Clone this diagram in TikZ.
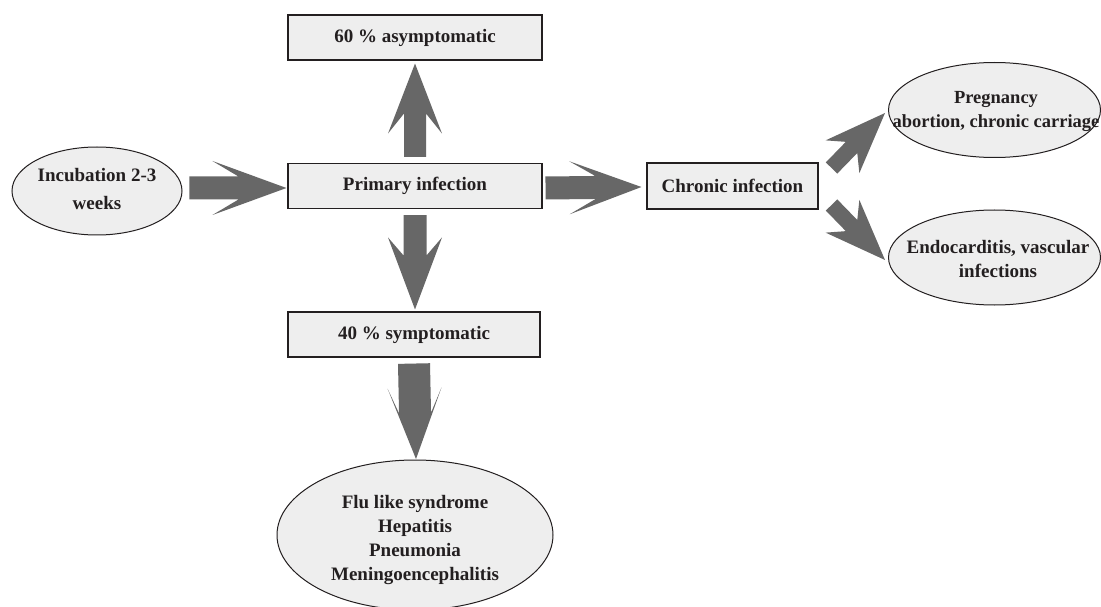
\documentclass[tikz,border=0pt]{standalone}
\usepackage{fontspec}
\setmainfont{Liberation Serif}
\usetikzlibrary{calc}
\definecolor{txt}{HTML}{231F20}
\definecolor{boxfill}{HTML}{EEEEEE}
\definecolor{arrowfill}{HTML}{676767}
% #1 start, #2 tip, #3 shaft half width, #4 head half width, #5 head length, #6 head length minus inset
\newcommand{\fatarrow}[6]{%
  \coordinate (faH) at ($(#2)!#5!(#1)$);
  \coordinate (faJ) at ($(#2)!#6!(#1)$);
  \fill[arrowfill] ($(#1)!#3!90:(#2)$) -- ($(faJ)!#3!90:(#2)$) -- ($(faH)!#4!90:(#2)$) -- (#2)
    -- ($(faH)!#4!-90:(#2)$) -- ($(faJ)!#3!-90:(#2)$) -- ($(#1)!#3!-90:(#2)$) -- cycle;}
\begin{document}
\begin{tikzpicture}[x=1bp,y=-1bp,
  every node/.style={text=txt, font=\bfseries\fontsize{19bp}{24bp}\selectfont, align=center},
  box/.style={draw=txt, line width=1.1bp, fill=boxfill, rectangle, inner sep=0pt},
  ell/.style={draw=txt, line width=1bp, fill=boxfill}]
\useasboundingbox (0,0) rectangle (1101,607);
\clip (0,0) rectangle (1101,607);
\fill[white] (0,0) rectangle (1101,607);

% ellipses
\draw[ell] (97,191) ellipse [x radius=85, y radius=44];
\node[font=\bfseries\fontsize{19bp}{28bp}\selectfont] (inc) at (97,189) {Incubation 2-3\\weeks};
\draw[ell] (994.5,110) ellipse [x radius=106, y radius=47.5];
\node[font=\bfseries\fontsize{18.5bp}{24bp}\selectfont] (preg) at (996,111) {Pregnancy\\abortion, chronic carriage};
\draw[ell] (994.5,257.5) ellipse [x radius=106, y radius=47.5];
\node (endo) at (998,259) {Endocarditis, vascular\\infections};
\draw[ell] (415,535) ellipse [x radius=138, y radius=75];
\node (flu) at (415,540) {Flu like syndrome\\Hepatitis\\Pneumonia\\Meningoencephalitis};

% boxes
\node[box, minimum width=254bp, minimum height=45bp] (prim) at (415,186) {Primary infection};
\node[box, minimum width=254bp, minimum height=45bp] (asym) at (415,37.5) {60 \% asymptomatic};
\node[box, minimum width=252bp, minimum height=45bp] (sym) at (414,334.5) {40 \% symptomatic};
\node[box, minimum width=171bp, minimum height=46bp] (chron) at (732.5,186) {Chronic infection};

% connector end points
\coordinate (a1s) at ($(prim.west)+(-98,2)$);
\coordinate (a1t) at ($(prim.west)+(-1,2)$);
\coordinate (a2s) at ($(prim.north)+(0,-6)$);
\coordinate (a2t) at ($(asym.south)+(0,3)$);
\coordinate (a3s) at ($(prim.south)+(0,6)$);
\coordinate (a3t) at ($(sym.north)+(1,-2)$);
\coordinate (a4s) at ($(sym.south)+(0,6)$);
\coordinate (a4t) at (416,459);
\coordinate (a5s) at ($(prim.east)+(3,2)$);
\coordinate (a5t) at ($(chron.west)+(-5,1)$);
\coordinate (a6s) at ($(chron.east)+(13,-18)$);
\coordinate (a6t) at (885,113);
\coordinate (a7s) at ($(chron.east)+(13,19)$);
\coordinate (a7t) at (885,260);

% fat arrows
\fatarrow{a1s}{a1t}{11.5bp}{27bp}{74bp}{48bp}
\fatarrow{a2s}{a2t}{11bp}{27bp}{70bp}{50bp}
\fatarrow{a3s}{a3t}{11.5bp}{27bp}{72bp}{54bp}
\fatarrow{a4s}{a4t}{16bp}{27bp}{71bp}{46bp}
\fatarrow{a5s}{a5t}{11.5bp}{26.5bp}{72bp}{46bp}
\fatarrow{a6s}{a6t}{8bp}{23.5bp}{61bp}{48bp}
\fatarrow{a7s}{a7t}{8bp}{23.5bp}{61bp}{48bp}
\end{tikzpicture}
\end{document}
